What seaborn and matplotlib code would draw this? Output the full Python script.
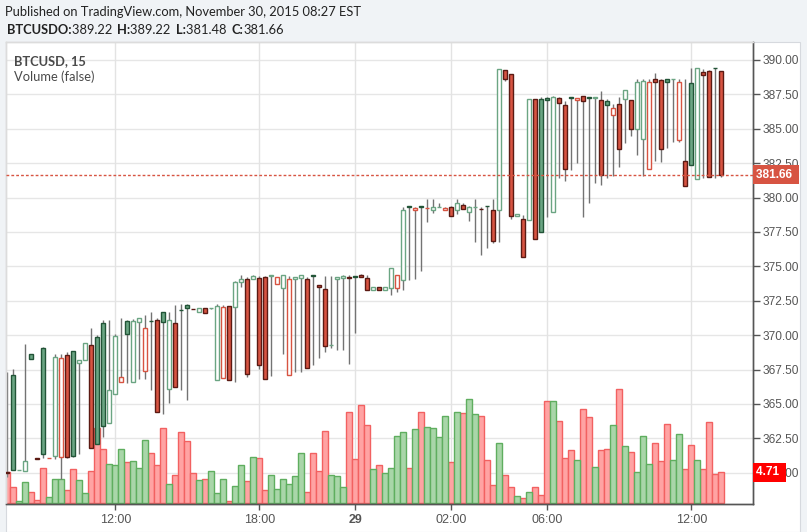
import numpy as np
import pandas as pd
import matplotlib
matplotlib.use("Agg")
import matplotlib.pyplot as plt
import matplotlib.transforms as mtrans
from matplotlib.patches import Rectangle
import seaborn as sns

# ---------------- data (15-minute BTCUSD bars) ----------------
opens = [360.05, 367.09, 360.19, 360.13, 368.61, 361.05, 369.05, 361.07, 361.24, 361.13,
         368.54, 368.83, 367.96, 368.17, 369.27, 369.85, 370.87, 363.60, 365.71, 366.58,
         371.01, 366.58, 370.94, 367.38, 371.04, 371.08, 371.66, 366.07, 370.87, 371.84,
         372.17, 371.91, 371.66, 371.95, 371.95, 366.72, 366.87, 372.10, 372.03, 373.85,
         374.06, 374.06, 374.13, 374.21, 374.32, 373.70, 373.41, 367.09, 374.06, 374.13,
         374.06, 374.34, 373.63, 373.34, 369.26, 374.06, 374.13, 374.19, 374.26, 374.37,
         374.13, 373.26, 373.48, 373.31, 373.45, 373.45, 374.03, 379.35, 379.08, 379.35,
         379.26, 379.08, 379.33, 379.08, 379.30, 379.08, 379.44, 378.94, 379.31, 379.18,
         379.38, 379.08, 379.08, 389.25, 388.96, 378.64, 378.42, 378.35, 387.14, 387.14,
         387.22, 378.93, 387.22, 386.71, 387.27, 387.07, 387.36, 387.27, 387.27, 387.07,
         387.00, 385.98, 386.78, 387.14, 387.07, 384.96, 384.24, 382.06, 388.60, 388.52,
         388.60, 388.59, 384.16, 382.63, 388.31, 381.33, 389.11, 389.18, 389.41, 389.22]
highs = [367.35, 367.52, 360.22, 369.36, 368.61, 361.05, 369.14, 361.10, 368.63, 368.63,
         368.75, 368.85, 368.17, 369.41, 370.50, 370.01, 371.10, 371.10, 370.09, 371.23,
         371.10, 371.16, 371.23, 371.47, 371.69, 371.25, 371.70, 371.69, 372.20, 372.27,
         372.27, 371.91, 372.00, 371.98, 371.97, 372.27, 372.20, 372.15, 373.94, 374.37,
         374.20, 374.40, 374.30, 374.30, 374.35, 374.25, 374.37, 374.30, 374.23, 374.37,
         374.25, 374.36, 373.63, 374.30, 374.30, 374.23, 374.37, 374.37, 374.28, 374.42,
         374.35, 373.50, 373.52, 373.52, 374.86, 374.35, 379.30, 379.36, 379.34, 379.36,
         379.90, 379.90, 379.58, 379.34, 379.36, 379.90, 379.58, 379.40, 379.90, 379.34,
         379.40, 379.90, 389.32, 389.25, 388.96, 378.79, 378.71, 387.14, 387.14, 387.29,
         387.30, 387.38, 387.30, 387.00, 387.28, 387.22, 387.36, 387.28, 387.29, 387.75,
         387.20, 386.78, 387.29, 387.80, 387.07, 388.62, 388.62, 388.62, 389.03, 388.60,
         388.62, 388.62, 388.60, 388.60, 389.40, 389.40, 389.32, 389.30, 389.42, 389.22]
lows = [359.70, 360.18, 360.17, 360.13, 368.25, 361.03, 361.10, 361.06, 361.03, 359.55,
        361.10, 361.17, 361.37, 368.17, 361.80, 362.07, 362.58, 363.60, 365.71, 366.58,
        366.50, 366.58, 366.85, 366.85, 366.02, 364.40, 364.27, 365.10, 366.21, 366.02,
        365.29, 371.90, 371.66, 371.59, 371.94, 366.72, 366.87, 366.72, 366.60, 373.48,
        366.94, 374.06, 367.57, 366.80, 367.06, 373.70, 368.61, 367.09, 367.33, 367.35,
        367.60, 367.81, 368.37, 368.75, 369.10, 368.90, 368.95, 367.93, 370.18, 374.20,
        373.26, 373.26, 373.26, 373.31, 372.94, 373.17, 373.31, 374.03, 374.11, 374.69,
        378.25, 378.91, 379.33, 379.08, 378.64, 378.79, 379.15, 378.33, 376.80, 375.83,
        376.36, 376.73, 376.80, 388.50, 378.47, 378.64, 375.66, 378.35, 376.97, 377.52,
        378.62, 378.93, 381.40, 381.23, 382.01, 382.54, 378.62, 379.64, 381.09, 380.92,
        381.40, 381.57, 382.25, 384.00, 384.50, 383.12, 381.55, 382.06, 382.68, 382.61,
        383.63, 384.06, 384.06, 380.82, 382.35, 381.33, 381.40, 381.48, 381.40, 381.48]
closes = [360.00, 360.18, 360.20, 360.88, 368.25, 361.03, 361.34, 361.08, 368.39, 368.32,
          361.13, 361.24, 368.17, 369.41, 361.80, 362.07, 363.38, 366.00, 369.92, 366.94,
          370.07, 371.01, 371.23, 370.50, 371.03, 364.40, 370.94, 371.08, 366.21, 371.83,
          371.95, 371.90, 371.95, 371.59, 371.96, 372.10, 372.03, 366.72, 373.85, 374.06,
          367.16, 374.30, 367.81, 366.82, 374.33, 374.21, 374.37, 374.06, 374.21, 374.35,
          367.60, 374.33, 373.48, 369.20, 369.27, 374.21, 374.28, 374.18, 374.25, 374.20,
          373.26, 373.48, 373.26, 373.48, 374.86, 374.35, 379.08, 379.34, 379.22, 379.34,
          379.27, 379.30, 379.34, 379.22, 378.64, 379.58, 379.15, 379.30, 379.32, 379.17,
          379.37, 376.87, 389.32, 388.60, 378.64, 378.79, 375.66, 387.14, 376.97, 377.52,
          387.07, 387.29, 386.85, 382.06, 387.26, 387.22, 387.00, 387.26, 387.28, 381.62,
          386.71, 386.49, 383.51, 387.80, 384.96, 388.38, 388.45, 388.43, 388.38, 383.51,
          388.38, 388.60, 388.38, 380.82, 382.35, 389.40, 388.89, 381.48, 389.40, 381.66]
volumes = [4.70, 2.54, 0.30, 3.30, 1.78, 0.56, 5.43, 1.02, 3.75, 3.75,
           2.08, 5.27, 3.60, 1.63, 4.97, 11.40, 8.31, 6.03, 5.78, 8.31,
           6.34, 6.49, 5.43, 9.68, 7.70, 5.88, 11.40, 3.00, 4.26, 10.90,
           9.53, 4.67, 3.60, 3.75, 4.97, 1.63, 3.75, 0.41, 2.69, 5.88,
           3.45, 7.10, 6.95, 1.98, 4.36, 2.23, 3.75, 2.99, 4.21, 7.70,
           1.78, 7.70, 4.97, 11.05, 4.36, 4.21, 2.54, 13.94, 6.79, 15.00,
           11.96, 5.27, 5.88, 4.67, 5.43, 10.29, 10.90, 5.43, 11.35, 13.94,
           11.66, 11.50, 10.14, 13.33, 6.34, 13.94, 13.78, 15.91, 13.63, 13.33,
           6.64, 2.84, 9.22, 4.36, 2.54, 1.17, 0.87, 1.78, 2.54, 1.32,
           15.60, 15.60, 12.57, 6.84, 8.05, 6.53, 14.29, 13.07, 5.47, 8.05,
           8.20, 11.85, 17.33, 8.66, 7.75, 4.71, 10.18, 5.93, 9.12, 6.38,
           12.00, 6.53, 10.49, 5.17, 8.81, 6.53, 5.17, 12.31, 4.41, 4.71]
tick_bars = [18, 42, 58, 74, 90, 114]
tick_labels = ["12:00", "18:00", "29", "02:00", "06:00", "12:00"]
price_ticks = [360.0, 362.5, 365.0, 367.5, 370.0, 372.5, 375.0, 377.5, 380.0,
               382.5, 385.0, 387.5, 390.0]
symbol = "BTCUSD, 15"
last_close = closes[-1]
last_volume = volumes[-1]

# ---------------- frame ----------------
df = pd.DataFrame({"bar": np.arange(len(opens)), "open": opens, "high": highs,
                   "low": lows, "close": closes, "volume": volumes})
prev = df["close"].shift(1).fillna(np.inf)
df["up"] = df["close"] > prev
df["hollow"] = df["close"] >= df["open"]
df["vdir"] = np.where(df["hollow"], "up", "down")

sns.set_theme(style="white")
plt.rcParams["font.family"] = ["Liberation Sans", "DejaVu Sans"]

W, H = 807, 532
fig = plt.figure(figsize=(W / 100, H / 100), dpi=100)
fig.patch.set_facecolor("#f0f3f6")
fig.patches.append(Rectangle((6 / W, 0), (800 - 6) / W, (H - 42) / H,
                             transform=fig.transFigure, facecolor="white",
                             edgecolor="#d6d9de", lw=0.8, zorder=-10))

left, right, top, bottom = 6, 753, 42, 504
ax_vol = fig.add_axes([left / W, (H - bottom) / H, (right - left) / W, (bottom - top) / H])
ax_vol.set_facecolor("white")
ax_p = ax_vol.twinx()

# volume bars (seaborn)
vol_face = {"up": "#a9d6a9", "down": "#ffa3a3"}
vol_edge = {"up": "#5fae5f", "down": "#f26161"}
sns.barplot(data=df, x="bar", y="volume", hue="vdir", palette=vol_face,
            native_scale=True, dodge=False, width=1.0, legend=False,
            linewidth=1, ax=ax_vol, zorder=2)
for patch in ax_vol.patches:
    idx = int(round(patch.get_x() + patch.get_width() / 2))
    if 0 <= idx < len(df):
        d = df.loc[idx, "vdir"]
        patch.set_facecolor(vol_face[d])
        patch.set_edgecolor(vol_edge[d])
        patch.set_linewidth(1)
ax_vol.set_ylim(-0.1, (bottom - top) / 6.58)
ax_vol.set_yticks([])
ax_vol.set_xlabel("")
ax_vol.set_ylabel("")

# grid drawn under volume bars using price coordinates
blend_p = mtrans.blended_transform_factory(ax_vol.transAxes, ax_p.transData)
for p in price_ticks:
    ax_vol.plot([0, 1], [p, p], transform=blend_p, color="#e6e6e6", lw=1, zorder=0)
for b in tick_bars:
    ax_vol.axvline(b, color="#e3e3e3", lw=1, zorder=0)

# candles
edge_map = {(True, True): "#6ba583", (False, True): "#d75442",
            (True, False): "#225437", (False, False): "#5b1a13"}
face_map = {(True, True): "white", (False, True): "white",
            (True, False): "#6ba583", (False, False): "#d75442"}
edges = [edge_map[(u, h)] for u, h in zip(df["up"], df["hollow"])]
faces = [face_map[(u, h)] for u, h in zip(df["up"], df["hollow"])]
ax_p.vlines(df["bar"], df["low"], df["high"], color="#737373", lw=1, zorder=2)
body_lo = np.minimum(df["open"], df["close"])
body_h = np.maximum(np.abs(df["close"] - df["open"]), 0.02)
ax_p.bar(df["bar"], body_h, bottom=body_lo, width=0.62, facecolor=faces,
         edgecolor=edges, linewidth=1, zorder=3)

ax_p.axhline(last_close, color="#d75442", lw=1, ls=(0, (2, 1.5)), zorder=4)

ax_p.set_ylim(390 - (bottom - 60) / 13.76, 390 + (60 - top) / 13.76)
ax_p.set_xlim((left - 7.3) / 6, (right - 7.3) / 6)
ax_vol.set_xlim((left - 7.3) / 6, (right - 7.3) / 6)

ax_p.set_yticks(price_ticks)
ax_p.set_yticklabels([f"{p:.2f}" for p in price_ticks])
ax_p.tick_params(axis="y", right=True, length=5, width=1, color="#555555",
                 labelsize=8.6, labelcolor="#555555", pad=2)
ax_vol.set_xticks(tick_bars)
ax_vol.set_xticklabels(tick_labels)
ax_vol.tick_params(axis="x", bottom=True, length=4, width=1, color="#555555",
                   labelsize=9, labelcolor="#555555", pad=3)
for lab in ax_vol.get_xticklabels():
    if lab.get_text() == "29":
        lab.set_fontweight("bold")
ax_p.tick_params(axis="x", bottom=False, labelbottom=False)

for a in (ax_vol, ax_p):
    a.spines["left"].set_color("#dcdcdc")
    a.spines["top"].set_color("#dcdcdc")
    a.spines["right"].set_color("#555555")
    a.spines["bottom"].set_color("#555555")
    for s in a.spines.values():
        s.set_linewidth(1)

# right-side value labels
blend_lp = mtrans.blended_transform_factory(ax_p.transAxes, ax_p.transData)
ax_p.text(1.004, last_close, f"{last_close:.2f} ", transform=blend_lp, ha="left",
          va="center", color="white", fontsize=8.6, fontweight="bold", zorder=6,
          bbox=dict(boxstyle="square,pad=0.28", fc="#d75442", ec="none"), clip_on=False)
blend_lv = mtrans.blended_transform_factory(ax_p.transAxes, ax_vol.transData)
ax_p.text(1.004, last_volume, f"{last_volume:.2f} ", transform=blend_lv, ha="left",
          va="center", color="white", fontsize=8.6, fontweight="bold", zorder=6,
          bbox=dict(boxstyle="square,pad=0.28", fc="#ff0000", ec="none"), clip_on=False)

# legend texts inside plot
ax_p.text(8 / (right - left), 1 - 19 / (bottom - top), symbol, transform=ax_p.transAxes,
          ha="left", va="center", fontsize=9.3, fontweight="bold", color="#4a4a4a",
          family=["Lato", "DejaVu Sans"])
ax_p.text(8 / (right - left), 1 - 35 / (bottom - top), "Volume (false)",
          transform=ax_p.transAxes, ha="left", va="center", fontsize=9.3,
          color="#4a4a4a", family=["Lato", "DejaVu Sans"])

# header
fig.text(5 / W, 1 - 12 / H, "Published on TradingView.com, November 30, 2015 08:27 EST",
         ha="left", va="center", fontsize=9.3, color="#222222",
         family=["Lato", "DejaVu Sans"])
pieces = [("BTCUSDO:", "bold"), (f"{opens[-1]:.2f} ", "normal"), ("H:", "bold"),
          (f"{highs[-1]:.2f} ", "normal"), ("L:", "bold"), (f"{lows[-1]:.2f} ", "normal"),
          ("C:", "bold"), (f"{last_close:.2f}", "normal")]
renderer = fig.canvas.get_renderer()
xpix = 7
for txt, wt in pieces:
    t = fig.text(xpix / W, 1 - 30 / H, txt, ha="left", va="center", fontsize=9.3,
                 fontweight=wt, color="#222222", family=["Lato", "DejaVu Sans"])
    bb = t.get_window_extent(renderer=renderer)
    xpix += bb.width + (2 if txt.endswith(" ") else 0)

fig.savefig("out.png", dpi=100, facecolor=fig.get_facecolor())
